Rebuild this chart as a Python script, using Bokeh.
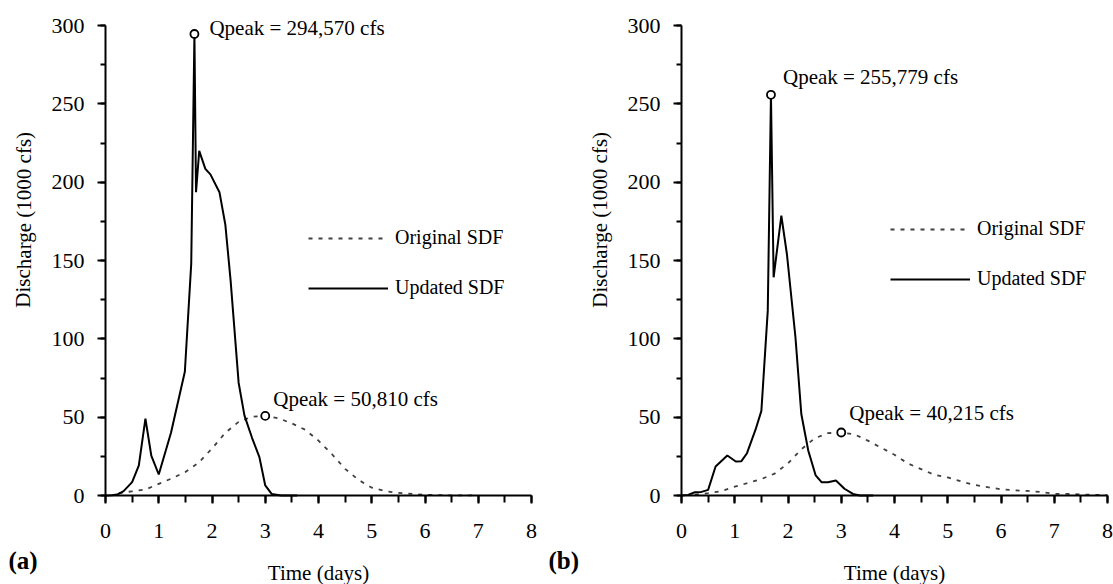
from bokeh.plotting import figure
from bokeh.models import Range1d, SingleIntervalTicker, Label, Legend, LegendItem, LinearAxis
from bokeh.layouts import row
from bokeh.embed import file_html
from bokeh.resources import INLINE

FONT = "'Liberation Serif', 'Times New Roman', serif"

# ---- Panel (a): time in days, discharge in 1000 cfs ----
t_orig_a = [0.25, 0.5, 0.75, 1.0, 1.25, 1.5, 1.75, 2.0, 2.25, 2.5, 2.75, 3.0, 3.25,
            3.5, 3.75, 4.0, 4.25, 4.5, 4.75, 5.0, 5.25, 5.5, 6.0, 6.5, 7.0]
q_orig_a = [1.5, 2.7, 3.8, 7.4, 11.0, 15.0, 21.0, 30.0, 40.0, 47.0, 50.3, 50.810, 49.3,
            46.0, 42.0, 35.0, 26.5, 17.0, 10.0, 5.0, 2.8, 1.7, 0.4, 0.1, 0.0]
t_upd_a = [0.0, 0.12, 0.22, 0.34, 0.5, 0.625, 0.75, 0.86, 1.0, 1.23, 1.49, 1.61, 1.67,
           1.70, 1.76, 1.875, 1.97, 2.14, 2.25, 2.35, 2.5, 2.61, 2.75, 2.89, 3.0, 3.12,
           3.3, 3.6]
q_upd_a = [0.0, 0.1, 0.6, 2.8, 8.5, 19.0, 49.0, 25.5, 13.4, 40.0, 79.0, 148.0, 294.570,
           193.6, 220.0, 208.5, 205.0, 193.6, 173.0, 137.0, 72.0, 51.0, 37.0, 24.5, 6.4,
           1.0, 0.0, 0.0]

# ---- Panel (b) ----
t_orig_b = [0.25, 0.5, 0.75, 1.0, 1.25, 1.5, 1.75, 2.0, 2.25, 2.5, 2.75, 3.0, 3.25, 3.5,
            3.75, 4.0, 4.25, 4.5, 4.75, 5.0, 5.25, 5.5, 5.75, 6.0, 6.25, 6.5, 6.75, 7.0,
            7.25, 7.5, 7.75, 8.0]
q_orig_b = [0.5, 1.5, 2.8, 5.6, 8.0, 10.5, 14.0, 20.5, 29.5, 36.5, 39.8, 40.215, 39.0, 35.0,
            30.5, 26.0, 20.5, 16.8, 13.2, 11.5, 9.0, 6.8, 5.3, 4.0, 3.3, 2.9, 2.2, 1.1,
            1.0, 0.7, 0.4, 0.2]
t_upd_b = [0.0, 0.125, 0.25, 0.375, 0.5, 0.64, 0.86, 1.02, 1.125, 1.23, 1.39, 1.5, 1.62,
           1.68, 1.73, 1.875, 1.98, 2.14, 2.25, 2.38, 2.52, 2.63, 2.75, 2.9, 3.06, 3.22,
           3.35, 3.6]
q_upd_b = [0.0, 0.4, 2.1, 2.3, 3.6, 18.5, 25.5, 21.7, 21.9, 27.0, 42.0, 54.0, 118.0,
           255.779, 139.3, 178.7, 154.0, 101.0, 52.0, 28.7, 12.8, 8.5, 8.5, 9.6, 4.3, 1.0,
           0.0, 0.0]

x_bounds = (0, 8)
y_bounds = (0, 300)

HEIGHT = 584
PX_PER_DAY = 426 / 8.0      # horizontal scale of both panels
PX_PER_UNIT = 470 / 300.0   # vertical scale of both panels
AXIS_TOP = 25               # pixel row of the 300 tick
AXIS_BOTTOM = 495           # pixel row of the 0 tick


def peak(ts, qs):
    i = max(range(len(qs)), key=lambda k: qs[k])
    return ts[i], qs[i]


def qlabel(q):
    return "Qpeak = {:,.0f} cfs".format(round(q * 1000))


def panel(tag, tag_dx, t_o, q_o, t_u, q_u, width, axis_px, leg_loc, offs):
    # the frame covers the whole canvas; axes are pinned at x=0 / y=0
    x0 = -axis_px / PX_PER_DAY
    x1 = (width - axis_px) / PX_PER_DAY
    y0 = -(HEIGHT - AXIS_BOTTOM) / PX_PER_UNIT
    y1 = y_bounds[1] + AXIS_TOP / PX_PER_UNIT
    p = figure(width=width, height=HEIGHT, output_backend="svg", toolbar_location=None,
               x_range=Range1d(x0, x1), y_range=Range1d(y0, y1),
               x_axis_type=None, y_axis_type=None,
               min_border_left=0, min_border_right=0,
               min_border_top=0, min_border_bottom=0)
    p.outline_line_color = None
    p.xgrid.visible = False
    p.ygrid.visible = False
    p.background_fill_color = "white"

    xaxis = LinearAxis(fixed_location=0, bounds=x_bounds,
                       ticker=SingleIntervalTicker(interval=1, num_minor_ticks=2))
    yaxis = LinearAxis(fixed_location=0, bounds=y_bounds,
                       ticker=SingleIntervalTicker(interval=50, num_minor_ticks=2))
    for ax in (xaxis, yaxis):
        ax.axis_line_width = 2
        ax.axis_line_color = "black"
        ax.major_tick_line_width = 2
        ax.minor_tick_line_width = 2
        ax.major_tick_line_color = "black"
        ax.minor_tick_line_color = "black"
        ax.major_tick_in = 0
        ax.minor_tick_in = 0
        ax.major_tick_out = 8
        ax.minor_tick_out = 5
        ax.major_label_text_font = FONT
        ax.major_label_text_font_size = "22px"
        ax.major_label_text_color = "black"
    xaxis.minor_tick_out = 7
    xaxis.major_label_standoff = 20
    yaxis.major_label_standoff = 13
    p.add_layout(xaxis, "below")
    p.add_layout(yaxis, "left")

    r_o = p.line(t_o, q_o, line_color="#404040", line_width=1.8, line_dash="4 6")
    r_u = p.line(t_u, q_u, line_color="black", line_width=2)

    pu = peak(t_u, q_u)
    po = peak(t_o, q_o)
    p.scatter([pu[0], po[0]], [pu[1], po[1]], size=8, marker="circle",
              fill_color="white", line_color="black", line_width=1.8)

    for pt, (dx, dy) in zip((pu, po), offs):
        p.add_layout(Label(x=pt[0], y=pt[1], x_offset=dx, y_offset=dy,
                           text=qlabel(pt[1]), text_font=FONT,
                           text_font_size="21px", text_baseline="middle",
                           text_align="left", text_color="black"))

    # axis titles
    p.add_layout(Label(x=0, y=176, x_offset=-82, text="Discharge (1000 cfs)",
                       angle=1.5707963, angle_units="rad", text_font=FONT,
                       text_font_size="21px", text_align="center",
                       text_baseline="middle", text_color="black"))
    p.add_layout(Label(x=4, y=0, y_offset=-77, text="Time (days)", text_font=FONT,
                       text_font_size="21px", text_align="center",
                       text_baseline="middle", text_color="black"))
    # panel tag
    p.add_layout(Label(x=0, y=0, x_offset=tag_dx, y_offset=-65, text=tag,
                       text_font=FONT, text_font_size="25px", text_font_style="bold",
                       text_align="left", text_baseline="middle", text_color="black"))

    legend = Legend(items=[LegendItem(label="Original SDF", renderers=[r_o]),
                           LegendItem(label="Updated SDF", renderers=[r_u])],
                    location=leg_loc, orientation="vertical",
                    glyph_width=80, glyph_height=20, label_height=20,
                    spacing=27, padding=0, margin=0, label_standoff=7,
                    label_text_font=FONT, label_text_font_size="20px",
                    label_text_color="black",
                    border_line_alpha=0, background_fill_alpha=0)
    p.add_layout(legend, "center")
    return p


p1 = panel("(a)", -97, t_orig_a, q_orig_a, t_upd_a, q_upd_a,
           width=540, axis_px=105, leg_loc=(308 - 105 + 105, 285),
           offs=((15, 6), (8, 17)))
p2 = panel("(b)", -133, t_orig_b, q_orig_b, t_upd_b, q_upd_b,
           width=573, axis_px=141, leg_loc=(890 - 540, 294),
           offs=((12, 18), (8, 19)))

layout = row(p1, p2)
open("out.html", "w").write(file_html(layout, INLINE))
